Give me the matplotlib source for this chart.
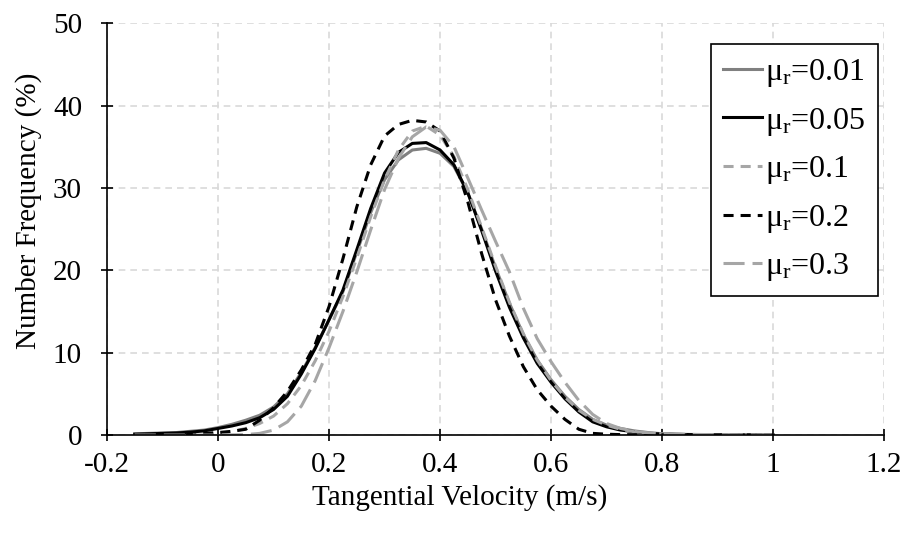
import matplotlib
matplotlib.use('Agg')
import matplotlib.pyplot as plt

plt.rcParams['font.family'] = ['Liberation Serif', 'DejaVu Serif']
plt.rcParams['mathtext.fontset'] = 'custom'
plt.rcParams['mathtext.rm'] = 'Liberation Serif'

# tangential velocity bins (m/s)
velocity = [-0.15, -0.125, -0.1, -0.075, -0.05, -0.025, 0.0, 0.025, 0.05, 0.075,
            0.1, 0.125, 0.15, 0.175, 0.2, 0.225, 0.25, 0.275, 0.3, 0.325,
            0.35, 0.375, 0.4, 0.425, 0.45, 0.475, 0.5, 0.525, 0.55, 0.575,
            0.6, 0.625, 0.65, 0.675, 0.7, 0.725, 0.75, 0.775, 0.8, 0.825,
            0.85, 0.875, 0.9, 0.925, 0.95, 0.975, 1.0]

# number frequency (%) per friction coefficient
freq_001 = [0.15, 0.2, 0.25, 0.3, 0.45, 0.6, 0.9, 1.3, 1.8, 2.4,
            3.4, 5.0, 7.6, 10.6, 14.0, 17.4, 22.2, 27.0, 31.0, 33.4,
            34.6, 34.8, 34.2, 32.6, 29.4, 25.0, 20.3, 16.0, 12.2, 9.1,
            6.7, 4.7, 3.1, 1.9, 1.2, 0.8, 0.5, 0.3, 0.15, 0.1,
            0.07, 0.05, 0.04, 0.03, 0.02, 0.01, 0.0]
freq_005 = [0.1, 0.15, 0.2, 0.25, 0.35, 0.5, 0.8, 1.1, 1.5, 2.1,
            3.1, 4.7, 7.4, 10.5, 14.0, 17.6, 22.5, 27.5, 31.8, 34.3,
            35.4, 35.5, 34.6, 32.8, 29.4, 24.8, 19.9, 15.5, 11.8, 8.7,
            6.4, 4.4, 2.8, 1.6, 1.0, 0.6, 0.4, 0.2, 0.12, 0.08,
            0.05, 0.04, 0.03, 0.02, 0.01, 0.01, 0.0]
freq_01 = [0.0, 0.0, 0.0, 0.02, 0.05, 0.1, 0.2, 0.4, 0.8, 1.4,
           2.3, 3.8, 6.0, 9.0, 12.6, 16.8, 21.5, 26.5, 31.0, 34.6,
           36.9, 37.5, 36.4, 33.8, 29.8, 25.2, 20.5, 16.1, 12.3, 9.1,
           6.6, 4.6, 3.0, 1.9, 1.2, 0.7, 0.4, 0.25, 0.15, 0.1,
           0.05, 0.04, 0.03, 0.02, 0.02, 0.01, 0.0]
freq_02 = [0.05, 0.05, 0.1, 0.1, 0.15, 0.2, 0.3, 0.45, 0.7, 1.8,
           3.3, 5.3, 7.9, 11.0, 15.6, 21.4, 27.7, 32.8, 36.3, 37.7,
           38.2, 38.0, 36.9, 33.6, 28.3, 22.0, 16.4, 12.0, 8.3, 5.5,
           3.5, 1.9, 0.7, 0.2, 0.1, 0.05, 0.04, 0.03, 0.03, 0.02,
           0.02, 0.02, 0.01, 0.01, 0.01, 0.0, 0.0]
freq_03 = [0.0, 0.0, 0.0, 0.0, 0.0, 0.0, 0.0, 0.02, 0.05, 0.2,
           0.6, 1.6, 3.5, 6.6, 10.6, 15.0, 19.8, 24.9, 29.8, 33.6,
           36.2, 37.4, 37.0, 35.0, 31.2, 27.3, 23.5, 19.8, 15.4, 11.7,
           8.9, 6.4, 4.2, 2.5, 1.4, 0.8, 0.45, 0.25, 0.15, 0.1,
           0.08, 0.06, 0.05, 0.04, 0.03, 0.02, 0.02]

labels = [r'$\mathregular{μ_r}$=0.01', r'$\mathregular{μ_r}$=0.05',
          r'$\mathregular{μ_r}$=0.1', r'$\mathregular{μ_r}$=0.2',
          r'$\mathregular{μ_r}$=0.3']

fig = plt.figure(figsize=(9.04, 5.38), dpi=100)
ax = fig.add_axes([0.1184, 0.1914, 0.8596, 0.7656])

lw = 2.2
ax.plot(velocity, freq_001, color='#808080', lw=lw, label=labels[0])
ax.plot(velocity, freq_005, color='black', lw=lw, label=labels[1])
ax.plot(velocity, freq_01, color='#a6a6a6', lw=lw, dashes=(3.3, 2.3), label=labels[2])
ax.plot(velocity, freq_02, color='black', lw=lw, dashes=(3.3, 2.3), label=labels[3])
ax.plot(velocity, freq_03, color='#a6a6a6', lw=lw, dashes=(6.9, 2.6), label=labels[4])

ax.set_xlim(-0.2, 1.2)
ax.set_ylim(0, 50)
xt = [-0.2, 0, 0.2, 0.4, 0.6, 0.8, 1.0, 1.2]
ax.set_xticks(xt)
ax.set_xticklabels(['-0.2', '0', '0.2', '0.4', '0.6', '0.8', '1', '1.2'])
ax.set_yticks([0, 10, 20, 30, 40, 50])

ax.grid(True, color='#d9d9d9', linestyle=(0, (4, 3)), lw=1.2)
ax.set_axisbelow(True)
ax.spines['top'].set_visible(False)
ax.spines['right'].set_visible(False)
ax.spines['left'].set_linewidth(1.2)
ax.spines['bottom'].set_linewidth(1.2)
ax.tick_params(direction='inout', length=8, width=1.2, labelsize=21)
ax.tick_params(axis='x', pad=8)
ax.tick_params(axis='y', pad=14)

ax.set_xlabel('Tangential Velocity (m/s)', fontsize=21, labelpad=7)
ax.xaxis.set_label_coords(0.454, -0.12)
ax.set_ylabel('Number Frequency (%)', fontsize=21)
ax.yaxis.set_label_coords(-0.084, 0.544)

leg = ax.legend(loc='upper right', bbox_to_anchor=(0.9923, 0.949), fontsize=23,
                frameon=True, fancybox=False, framealpha=1, edgecolor='black',
                handlelength=1.2, handletextpad=0.1, labelspacing=0.52,
                borderpad=0.4, borderaxespad=0)
leg.get_frame().set_linewidth(1.2)

fig.savefig('out.png', dpi=100)
